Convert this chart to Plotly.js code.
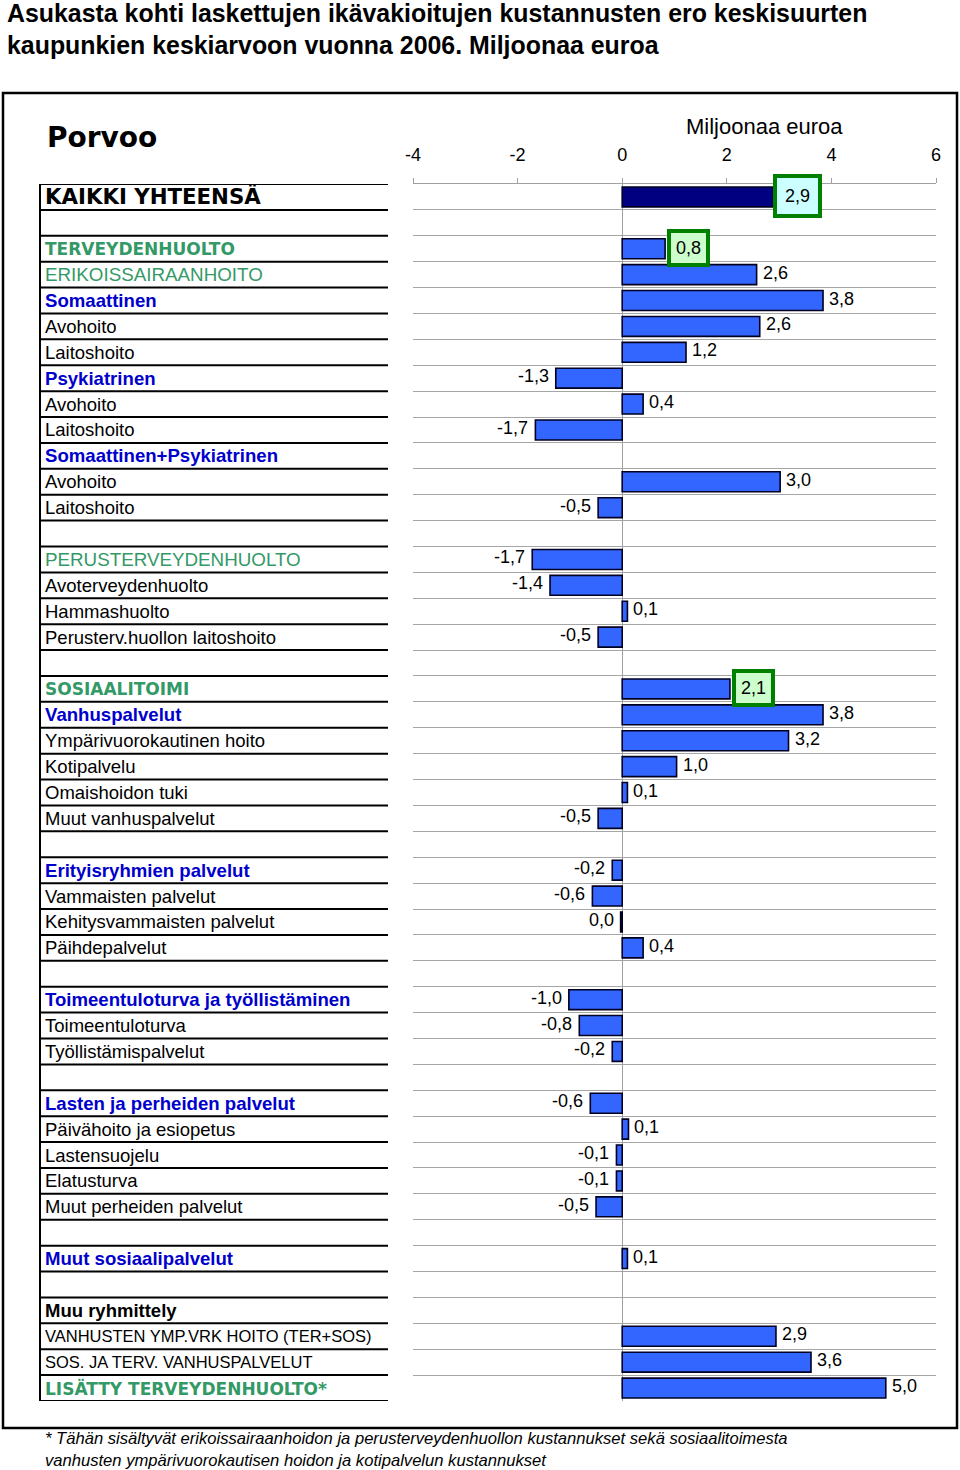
<!DOCTYPE html>
<html>
<head>
<meta charset="utf-8">
<script src="https://cdn.plot.ly/plotly-3.0.1.min.js"></script>
<style>html,body{margin:0;padding:0;background:#fff;}#chart{width:960px;height:1470px;}</style>
</head>
<body>
<div id="chart"></div>
<script>
// ---------- DATA ----------
const chartTitle = 'Asukasta kohti laskettujen ikävakioitujen kustannusten ero keskisuurten<br>kaupunkien keskiarvoon vuonna 2006. Miljoonaa euroa';
const cityName = 'Porvoo';
const unitLabel = 'Miljoonaa euroa';
const footnote = '* Tähän sisältyvät erikoissairaanhoidon ja perusterveydenhuollon kustannukset sekä sosiaalitoimesta<br>vanhusten ympärivuorokautisen hoidon ja kotipalvelun kustannukset';

const categories = [
  'KAIKKI YHTEENSÄ', '',
  'TERVEYDENHUOLTO', 'ERIKOISSAIRAANHOITO',
  'Somaattinen', 'Avohoito', 'Laitoshoito',
  'Psykiatrinen', 'Avohoito', 'Laitoshoito',
  'Somaattinen+Psykiatrinen', 'Avohoito', 'Laitoshoito', '',
  'PERUSTERVEYDENHUOLTO', 'Avoterveydenhuolto', 'Hammashuolto', 'Perusterv.huollon laitoshoito', '',
  'SOSIAALITOIMI', 'Vanhuspalvelut', 'Ympärivuorokautinen hoito', 'Kotipalvelu', 'Omaishoidon tuki', 'Muut vanhuspalvelut', '',
  'Erityisryhmien palvelut', 'Vammaisten palvelut', 'Kehitysvammaisten palvelut', 'Päihdepalvelut', '',
  'Toimeentuloturva ja työllistäminen', 'Toimeentuloturva', 'Työllistämispalvelut', '',
  'Lasten ja perheiden palvelut', 'Päivähoito ja esiopetus', 'Lastensuojelu', 'Elatusturva', 'Muut perheiden palvelut', '',
  'Muut sosiaalipalvelut', '',
  'Muu ryhmittely', 'VANHUSTEN YMP.VRK HOITO (TER+SOS)', 'SOS. JA TERV. VANHUSPALVELUT', 'LISÄTTY TERVEYDENHUOLTO*'
];

const values = [
  2.89, null,
  0.82, 2.57,
  3.84, 2.63, 1.22,
  -1.27, 0.40, -1.66,
  null, 3.02, -0.46, null,
  -1.72, -1.38, 0.10, -0.46, null,
  2.06, 3.84, 3.18, 1.04, 0.10, -0.46, null,
  -0.19, -0.57, -0.03, 0.40, null,
  -1.02, -0.82, -0.19, null,
  -0.61, 0.12, -0.11, -0.11, -0.50, null,
  0.10, null,
  null, 2.94, 3.61, 5.04
];

// row kind: how each label is styled
const rowKind = [
  'total', 'blank',
  'heavy', 'green',
  'sub', 'item', 'item',
  'sub', 'item', 'item',
  'sub', 'item', 'item', 'blank',
  'green', 'item', 'item', 'item', 'blank',
  'heavy', 'sub', 'item', 'item', 'item', 'item', 'blank',
  'sub', 'item', 'item', 'item', 'blank',
  'sub', 'item', 'item', 'blank',
  'sub', 'item', 'item', 'item', 'item', 'blank',
  'sub', 'blank',
  'other', 'small', 'small', 'heavy'
];

const xTicks = [-4, -2, 0, 2, 4, 6];
const highlightRows = [0, 2, 19];

// ---------- STYLES ----------
const W = 960, H = 1470;
const L = 413, R = 936, T = 184, B = 1401;
const px = x => (x - L) / (R - L);
const py = y => (B - y) / (B - T);

const SANS = 'Liberation Sans, Arial, sans-serif';
const HEAVY = 'DejaVu Sans, sans-serif';
const GREEN = '#339966';
const BLUE = '#0000cc';
const kindFont = {
  total: {family: HEAVY, size: 21.3, color: '#000', weight: 'bold'},
  heavy: {family: HEAVY, size: 17, color: GREEN, weight: 'bold'},
  green: {family: SANS, size: 18.8, color: GREEN},
  sub:   {family: SANS, size: 18.6, color: BLUE, weight: 'bold'},
  item:  {family: SANS, size: 18.5, color: '#000'},
  other: {family: SANS, size: 18.5, color: '#000', weight: 'bold'},
  small: {family: SANS, size: 16.5, color: '#000'}
};
const highlightStyle = {
  0:  {bg: '#ccffff', pad: 8, shift: 0},
  2:  {bg: '#ccffcc', pad: 5, shift: 2},
  19: {bg: '#ccffcc', pad: 5, shift: 2}
};

const fmt = v => Math.abs(v) < 0.05 ? '0,0' : v.toFixed(1).replace('.', ',');
const rows = categories.map((c, i) => i);

const barColors = values.map((v, i) => i === 0 ? '#000080' : '#3366ff');

const trace = {
  type: 'bar',
  orientation: 'h',
  x: values,
  y: rows,
  width: 0.77,
  marker: {color: barColors, line: {color: '#000022', width: 1.6}},
  hoverinfo: 'skip',
  cliponaxis: false
};

const annotations = [];
// main title
annotations.push({
  xref: 'paper', yref: 'paper', x: px(5), y: py(28.5), xanchor: 'left', yanchor: 'middle', align: 'left',
  text: '<b>' + chartTitle + '</b>', showarrow: false,
  font: {family: SANS, size: 24.9, color: '#000'}
});
// category labels
categories.forEach((c, i) => {
  if (!c) return;
  const f = kindFont[rowKind[i]];
  annotations.push({
    xref: 'paper', yref: 'y', x: px(43), y: i, xanchor: 'left', yanchor: 'middle',
    text: f.weight === 'bold' ? '<b>' + c + '</b>' : c,
    showarrow: false, font: {family: f.family, size: f.size, color: f.color}
  });
});
// value labels
values.forEach((v, i) => {
  if (v === null) return;
  const pos = v > 0;
  if (highlightRows.includes(i)) {
    const h = highlightStyle[i];
    annotations.push({
      xref: 'x', yref: 'y', x: v, y: i, xanchor: 'left', yanchor: 'middle',
      xshift: h.shift, yshift: 1,
      text: fmt(v), showarrow: false,
      font: {family: SANS, size: 18, color: '#000'},
      bgcolor: h.bg, bordercolor: '#008000', borderwidth: 4, borderpad: h.pad
    });
  } else {
    annotations.push({
      xref: 'x', yref: 'y', x: v, y: i, xanchor: pos ? 'left' : 'right', yanchor: 'middle',
      xshift: pos ? 4 : -5, yshift: 2,
      text: fmt(v), showarrow: false,
      font: {family: SANS, size: 18, color: '#000'}
    });
  }
});
// city name, unit, footnote
annotations.push({
  xref: 'paper', yref: 'paper', x: px(45), y: py(137), xanchor: 'left', yanchor: 'middle',
  text: '<b>' + cityName + '</b>', showarrow: false,
  font: {family: HEAVY, size: 28, color: '#000'}
});
annotations.push({
  xref: 'paper', yref: 'paper', x: px(764), y: py(126), xanchor: 'center', yanchor: 'middle',
  text: unitLabel, showarrow: false,
  font: {family: SANS, size: 22, color: '#000'}
});
annotations.push({
  xref: 'paper', yref: 'paper', x: px(43), y: py(1449.5), xanchor: 'left', yanchor: 'middle', align: 'left',
  text: '<i>' + footnote + '</i>', showarrow: false,
  font: {family: SANS, size: 16.6, color: '#000'}
});

const shapes = [];
// outer frame
shapes.push({type: 'rect', xref: 'paper', yref: 'paper', x0: px(3), x1: px(957), y0: py(1428), y1: py(93),
  line: {color: '#000', width: 2.5}, fillcolor: 'rgba(0,0,0,0)'});
// label table lines
for (let k = 0; k <= categories.length; k++) {
  shapes.push({type: 'line', xref: 'paper', yref: 'y', x0: px(40), x1: px(388), y0: k - 0.5, y1: k - 0.5,
    line: {color: '#000', width: 2}});
}
shapes.push({type: 'line', xref: 'paper', yref: 'y', x0: px(40), x1: px(40), y0: -0.5, y1: categories.length - 0.5,
  line: {color: '#000', width: 2}});

const boundaries = [];
for (let k = 0; k <= categories.length; k++) boundaries.push(k - 0.5);

const layout = {
  width: W, height: H,
  margin: {l: L, r: W - R, t: T, b: H - B, pad: 0},
  paper_bgcolor: '#fff', plot_bgcolor: '#fff',
  showlegend: false,
  xaxis: {
    range: [-4, 6], side: 'top',
    tickvals: xTicks, ticktext: xTicks.map(String),
    ticks: 'outside', ticklen: 5, tickcolor: '#a0a0a0', tickwidth: 1,
    showline: true, linecolor: '#a0a0a0', linewidth: 1,
    showgrid: false,
    zeroline: true, zerolinecolor: '#a0a0a0', zerolinewidth: 1,
    tickfont: {family: SANS, size: 18, color: '#000'},
    ticklabelstandoff: 10,
    fixedrange: true
  },
  yaxis: {
    range: [categories.length - 0.5, -0.5],
    tickvals: boundaries, showticklabels: false, ticks: '',
    showgrid: true, gridcolor: '#a6a6a6', gridwidth: 1,
    zeroline: false, showline: false, fixedrange: true
  },
  bargap: 0.2,
  annotations: annotations,
  shapes: shapes
};

Plotly.newPlot('chart', [trace], layout, {staticPlot: true, displayModeBar: false});
</script>
</body>
</html>
